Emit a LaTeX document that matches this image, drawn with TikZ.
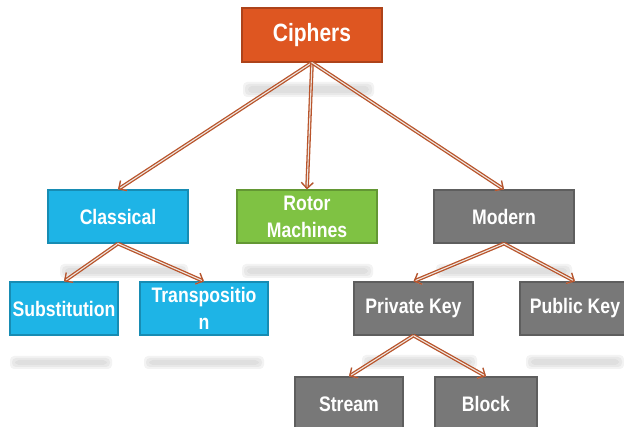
\documentclass[tikz,border=0pt]{standalone}
\usepackage{fontspec}
\newfontfamily\boxfont{Liberation Sans}[FakeStretch=0.84]
\usetikzlibrary{arrows.meta}
\definecolor{cipherorange}{HTML}{DE5621}
\definecolor{classicblue}{HTML}{1EB4E6}
\definecolor{rotorgreen}{HTML}{7FC243}
\definecolor{moderngray}{HTML}{787878}
\definecolor{arrowbrown}{HTML}{B9542B}
\definecolor{arrowfill}{HTML}{EDE6E1}
\definecolor{floorgray}{HTML}{9A9A9A}
\tikzset{
  box/.style={rectangle, draw=#1!78!black, line width=1.2pt, fill=#1, text=white,
    inner sep=0pt, align=center,
    font=\boxfont\bfseries\fontsize{21}{27}\selectfont},
  conn/.style={draw=arrowbrown, line width=1.3pt, double=arrowfill, double distance=1.1pt,
    -{Straight Barb[length=6pt, width=12pt]}},
  connshadow/.style={draw=gray!45, line width=1.4pt, opacity=0.7,
    -{Straight Barb[length=6pt, width=12pt]}, shift={(2pt,-1pt)}},
  floor/.style={fill=floorgray, opacity=0.12, rounded corners=4pt}
}
\newcommand{\floorbar}[4]{%
  \fill[floor] (#1-2,#2-2) rectangle (#3+2,#4+2);
  \fill[floor] (#1,#2) rectangle (#3,#4);
  \fill[floor] (#1+3,#2+2) rectangle (#3-3,#4-2);
}
\begin{document}
\begin{tikzpicture}[x=1pt, y=-1pt]
\useasboundingbox (0,0) rectangle (624,427);
\clip (0,0) rectangle (624,427);

% soft floor reflections under the boxes
\floorbar{245}{84}{372}{95}
\floorbar{62}{266}{186}{276}
\floorbar{244}{266}{371}{276}
\floorbar{438}{266}{570}{276}
\floorbar{12}{358}{110}{367}
\floorbar{146}{358}{262}{367}
\floorbar{364}{357}{475}{367}
\floorbar{528}{357}{622}{367}

% boxes
\node[box=cipherorange, minimum width=140pt, minimum height=54pt,
      font=\boxfont\bfseries\fontsize{25}{30}\selectfont] (ciphers) at (312,35) {Ciphers};
\node[box=classicblue, minimum width=140pt, minimum height=53pt] (classical) at (118,216.5) {Classical};
\node[box=rotorgreen, minimum width=140pt, minimum height=53pt] (rotor) at (307,216.5) {Rotor\\Machines};
\node[box=moderngray, minimum width=140pt, minimum height=53pt] (modern) at (504,216.5) {Modern};
\node[box=classicblue, minimum width=108pt, minimum height=53pt] (subst) at (64,308.5) {Substitution};
\node[box=classicblue, minimum width=128pt, minimum height=53pt] (transp) at (204,308.5) {Transpositio\\n};
\node[box=moderngray, minimum width=119pt, minimum height=53pt] (private) at (413.5,308.5) {Private Key};
\node[box=moderngray, minimum width=110pt, minimum height=53pt] (public) at (575,308.5) {Public Key};
\node[box=moderngray, minimum width=108pt, minimum height=54pt] (stream) at (349,404) {Stream};
\node[box=moderngray, minimum width=102pt, minimum height=54pt] (block) at (486,404) {Block};

% connectors: a faint grey offset stroke under each double brown arrow
\foreach \a/\b in {ciphers/classical, ciphers/rotor, ciphers/modern,
                   classical/subst, classical/transp,
                   modern/private, modern/public,
                   private/stream, private/block} {
  \draw[connshadow] (\a.south) -- (\b.north);
  \draw[conn] (\a.south) -- (\b.north);
}
\end{tikzpicture}
\end{document}
